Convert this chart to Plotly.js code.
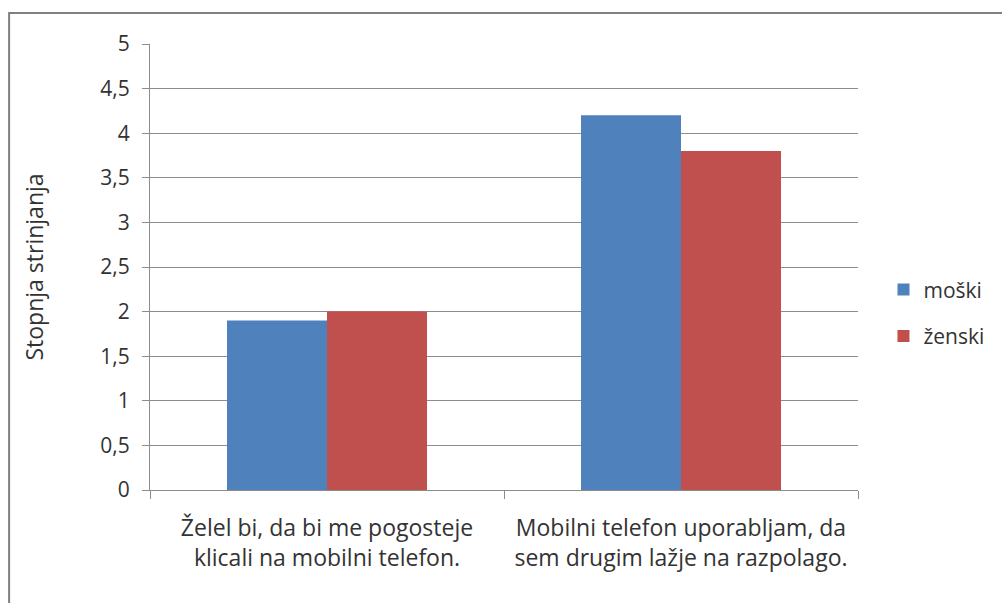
<!DOCTYPE html>
<html>
<head>
<meta charset="utf-8">
<script src="https://cdn.plot.ly/plotly-3.0.1.min.js"></script>
<style>html,body{margin:0;padding:0;background:#fff;}#chart{width:1002px;height:603px;}</style>
</head>
<body>
<div id="chart"></div>
<script>
const categories = [
  "Želel bi, da bi me pogosteje<br>klicali na mobilni telefon.",
  "Mobilni telefon uporabljam, da<br>sem drugim lažje na razpolago."
];
const seriesNames = ["moški", "ženski"];
const moski = [1.9, 4.2];
const zenski = [2.0, 3.8];
const yTicks = [0, 0.5, 1, 1.5, 2, 2.5, 3, 3.5, 4, 4.5, 5];

const font = "Open Sans, Liberation Sans, sans-serif";
const fs = 21;
const data = [
  {type: "bar", name: seriesNames[0], x: categories, y: moski,
   marker: {color: "#4F81BD"}, legendgroup: "a", hoverinfo: "none"},
  {type: "bar", name: seriesNames[1], x: categories, y: zenski,
   marker: {color: "#C0504D"}, legendgroup: "b", hoverinfo: "none"}
];
const layout = {
  width: 1002, height: 603,
  margin: {l: 150, r: 144, t: 44, b: 113, autoexpand: false},
  paper_bgcolor: "#ffffff", plot_bgcolor: "#ffffff",
  separators: ", ",
  barmode: "group", bargap: 0.435, bargroupgap: 0,
  font: {family: font, size: fs, color: "#333333"},
  showlegend: true,
  legend: {x: 1.036, xanchor: "left", y: 0.397, yanchor: "middle",
           font: {family: font, size: fs, color: "#333333"},
           traceorder: "grouped", tracegroupgap: 16, bgcolor: "rgba(0,0,0,0)"},
  xaxis: {type: "category", showgrid: false, showline: true, linecolor: "#8c8c8c", linewidth: 1,
          ticks: "outside", tickson: "boundaries", ticklen: 8, tickcolor: "#8c8c8c",
          ticklabelstandoff: 17,
          tickfont: {family: font, size: 23, color: "#333333"}, fixedrange: true},
  yaxis: {range: [0, 5], tickvals: yTicks, showgrid: true, gridcolor: "#8c8c8c", gridwidth: 1,
          showline: true, linecolor: "#8c8c8c", linewidth: 1, zeroline: false,
          ticks: "outside", ticklen: 7, tickcolor: "#8c8c8c",
          ticklabelstandoff: 8,
          tickfont: {family: font, size: fs, color: "#333333"},
          title: {text: "Stopnja strinjanja", font: {family: font, size: 23, color: "#333333"}, standoff: 50},
          fixedrange: true},
  shapes: [{type: "rect", xref: "paper", yref: "paper", x0: -0.199, x1: 2, y0: -2, y1: 1.0695,
            line: {color: "#808080", width: 2}, fillcolor: "rgba(0,0,0,0)", layer: "below"}]
};
Plotly.newPlot("chart", data, layout, {displayModeBar: false, staticPlot: true});
</script>
</body>
</html>
